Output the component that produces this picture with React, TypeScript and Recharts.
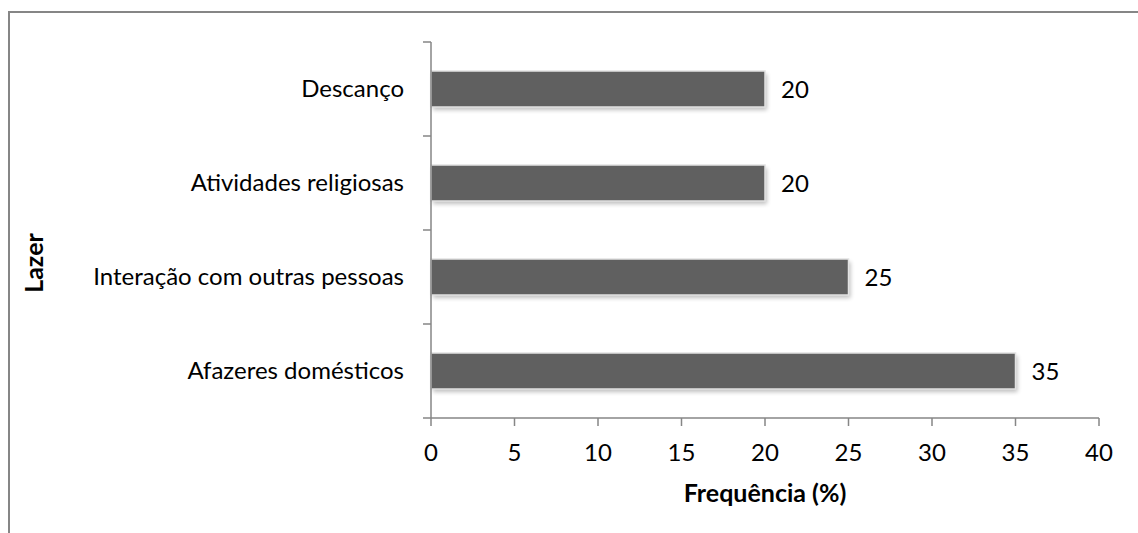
import { BarChart, Bar, XAxis, YAxis, LabelList } from "recharts";

const categories = [
  "Descanço",
  "Atividades religiosas",
  "Interação com outras pessoas",
  "Afazeres domésticos",
];
const values = [20, 20, 25, 35];
const xTicks = [0, 5, 10, 15, 20, 25, 30, 35, 40];

const data = categories.map((name, i) => ({ name, value: values[i] }));

const W = 1128;
const H = 520;
const margin = { top: 29, right: 39, bottom: 55, left: 13 };
const yAxisWidth = 408;
const xAxisHeight = 60;
const plotH = H - margin.top - margin.bottom - xAxisHeight;
const band = plotH / categories.length;
const catGap = 27;

const FONT = "Lato, 'Open Sans', sans-serif";
const AXIS = "#868686";

// excel-style category ticks: label in the middle, tick marks at band edges
const CategoryTick = (props: any) => {
  const { x, y, payload, index } = props;
  const axisX = x + catGap;
  return (
    <g>
      <line x1={axisX - 8} x2={axisX} y1={y - band / 2} y2={y - band / 2} stroke={AXIS} strokeWidth={1.5} />
      {index === categories.length - 1 && (
        <line x1={axisX - 8} x2={axisX} y1={y + band / 2} y2={y + band / 2} stroke={AXIS} strokeWidth={1.5} />
      )}
      <text x={x} y={y} dy="0.35em" textAnchor="end" fill="#000" fontSize={24} fontFamily={FONT}>
        {payload.value}
      </text>
    </g>
  );
};

const ShadowBar = (props: any) => {
  const { x, y, width, height } = props;
  return (
    <g>
      <rect x={x + 2} y={y + 3} width={width} height={height} fill="#000" opacity={0.25} filter="url(#barShadow)" />
      <rect x={x} y={y} width={width} height={height} fill="#606060" stroke="#e2e2e2" strokeWidth={1.5} />
    </g>
  );
};

export default function App() {
  return (
    <div
      style={{
        position: "absolute",
        left: 8,
        top: 11,
        width: W + 2,
        height: H + 2,
        borderLeft: `2px solid ${AXIS}`,
        borderTop: `2px solid ${AXIS}`,
        background: "#fff",
      }}
    >
      <svg width={0} height={0} style={{ position: "absolute" }}>
        <defs>
          <filter id="barShadow" x="-5%" y="-30%" width="110%" height="160%">
            <feGaussianBlur stdDeviation={2} />
          </filter>
        </defs>
      </svg>
      <BarChart width={W} height={H} data={data} layout="vertical" margin={margin}>
        <XAxis
          type="number"
          domain={[0, 40]}
          ticks={xTicks}
          interval={0}
          height={xAxisHeight}
          stroke={AXIS}
          strokeWidth={1.5}
          tickSize={8}
          tickMargin={18}
          tick={{ fill: "#000", fontSize: 24, fontFamily: FONT }}
          label={{
            content: (p: any) => {
              const vb = p.viewBox;
              return (
                <text
                  x={vb.x + vb.width / 2}
                  y={vb.y + 84}
                  textAnchor="middle"
                  fontSize={25}
                  fontWeight="bold"
                  fontFamily={FONT}
                  fill="#000"
                >
                  Frequência (%)
                </text>
              );
            },
          }}
        />
        <YAxis
          type="category"
          dataKey="name"
          width={yAxisWidth}
          stroke={AXIS}
          strokeWidth={1.5}
          tickLine={false}
          tickSize={0}
          tickMargin={catGap}
          interval={0}
          tick={<CategoryTick />}
          label={{
            content: (p: any) => {
              const vb = p.viewBox;
              const cx = vb.x + 11;
              const cy = vb.y + vb.height / 2 + 33;
              return (
                <text
                  x={cx}
                  y={cy}
                  dy="0.35em"
                  textAnchor="middle"
                  transform={`rotate(-90 ${cx} ${cy})`}
                  fontSize={25}
                  fontWeight="bold"
                  fontFamily={FONT}
                  fill="#000"
                >
                  Lazer
                </text>
              );
            },
          }}
        />
        <Bar dataKey="value" barSize={36} shape={<ShadowBar />} isAnimationActive={false}>
          <LabelList dataKey="value" position="right" offset={16} fill="#000" fontSize={24} fontFamily={FONT} />
        </Bar>
      </BarChart>
    </div>
  );
}
